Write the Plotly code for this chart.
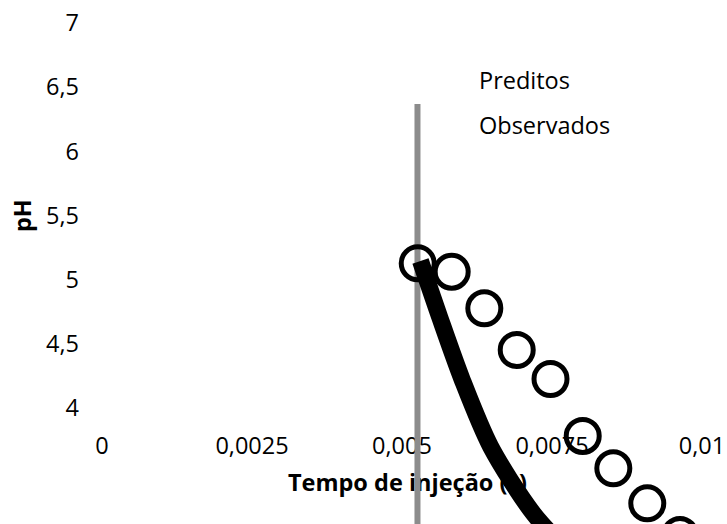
import plotly.graph_objects as go

# ---- data ----
obs_t = [0.005262, 0.005828, 0.006372, 0.006912, 0.007475, 0.008012, 0.008522, 0.009088, 0.009633]
obs_ph = [5.127, 5.062, 4.777, 4.452, 4.226, 3.782, 3.530, 3.257, 3.010]

pred_t = [0.005308, 0.005633, 0.006005, 0.006478, 0.007188, 0.0080]
pred_ph = [5.145, 4.701, 4.218, 3.698, 3.179, 2.77]

ref_t = [0.005258, 0.005258]
ref_ph = [6.369, 2.5]

x_tickvals = [0, 0.0025, 0.005, 0.0075, 0.01]
x_ticktext = ["0", "0,0025", "0,005", "0,0075", "0,01"]
y_tickvals = [4, 4.5, 5, 5.5, 6, 6.5, 7]
y_ticktext = ["4", "4,5", "5", "5,5", "6", "6,5", "7"]

legend_names = ["Preditos", "Observados"]
x_title = "Tempo de injeção (s)"
y_title = "pH"

FONT = "Open Sans"
FS = 23.5
W, H = 727, 524

fig = go.Figure()

fig.add_trace(go.Scatter(
    x=ref_t, y=ref_ph, mode="lines",
    line=dict(color="#8c8c8c", width=6),
    showlegend=False, hoverinfo="skip"))

fig.add_trace(go.Scatter(
    x=obs_t, y=obs_ph, mode="markers", name=legend_names[1],
    marker=dict(symbol="circle-open", size=33, color="black",
                line=dict(color="black", width=5)),
    cliponaxis=True, showlegend=False))

fig.add_trace(go.Scatter(
    x=pred_t, y=pred_ph, mode="lines", name=legend_names[0],
    line=dict(color="black", width=17, shape="spline", smoothing=0.8),
    showlegend=False))

# dummy trace for the title axis
fig.add_trace(go.Scatter(x=[None], y=[None], xaxis="x2", yaxis="y",
                         showlegend=False, hoverinfo="skip"))

x_left = (80 - 102) / 60000
x_right = (727 - 102) / 60000
y_top = 7 + 23 / 128.33
y_bot = 4 - (524 - 408) / 128.33

title_x = (407.5 - 102) / 60000

fig.update_layout(
    width=W, height=H,
    margin=dict(l=80, r=0, t=0, b=0),
    paper_bgcolor="white", plot_bgcolor="white",
    font=dict(family=FONT, size=FS, color="black"),
    xaxis=dict(range=[x_left, x_right], anchor="free", position=1 - 429 / H,
               tickvals=x_tickvals, ticktext=x_ticktext,
               showgrid=False, zeroline=False, showline=False, ticks="",
               layer="below traces"),
    xaxis2=dict(range=[x_left, x_right], overlaying="x", anchor="free",
                position=1 - 466 / H, side="bottom",
                tickvals=[title_x], ticktext=["<b>" + x_title + "</b>"],
                showgrid=False, zeroline=False, showline=False, ticks="",
                layer="below traces"),
    yaxis=dict(range=[y_bot, y_top], tickvals=y_tickvals, ticktext=y_ticktext,
               showgrid=False, zeroline=False, showline=False, ticks=""),
    showlegend=False,
)

fig.add_annotation(text="<b>" + y_title + "</b>", textangle=-90,
                   xref="paper", yref="paper", x=(22 - 80) / (W - 80), y=1 - 216 / H,
                   xanchor="center", yanchor="middle", showarrow=False,
                   font=dict(family=FONT, size=FS))
fig.add_annotation(text=legend_names[0], xref="paper", yref="paper",
                   x=(477 - 80) / (W - 80), y=1 - 80.5 / H,
                   xanchor="left", yanchor="middle", showarrow=False,
                   font=dict(family=FONT, size=FS))
fig.add_annotation(text=legend_names[1], xref="paper", yref="paper",
                   x=(477 - 80) / (W - 80), y=1 - 125 / H,
                   xanchor="left", yanchor="middle", showarrow=False,
                   font=dict(family=FONT, size=FS))

fig.write_html("out.html")
